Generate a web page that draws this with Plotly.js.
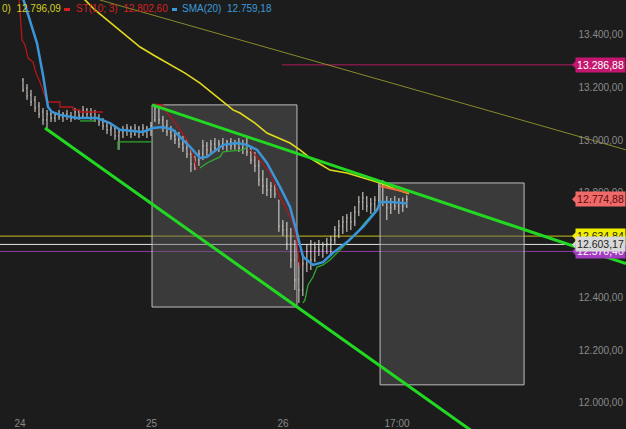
<!DOCTYPE html>
<html><head><meta charset="utf-8">
<script src="https://cdn.plot.ly/plotly-3.0.1.min.js"></script>
<style>html,body{margin:0;padding:0;background:#1c1c1c;overflow:hidden}#chart{width:626px;height:429px;}</style>
</head><body><div id="chart"></div>
<script>
// ---- price bars (x = day of month, fractional) ----
const barOpen = [13229,13198,13172,13153,13130,13107,13077,13099,13084,13096,
13088,13099,13092,13084,13107,13092,13115,13099,13107,13084,
13069,13054,13039,13046,13016,13031,13039,13046,13023,13046,
13031,13046,13039,13077,13122,13077,13054,13031,13016,13001,
12985,12970,12947,12909,12924,12947,12978,12963,12985,12970,
12985,12978,12993,12978,12985,12970,12985,12955,12924,12902,
12848,12825,12810,12825,12772,12673,12658,12605,12544,12468,
12430,12529,12575,12544,12590,12582,12597,12605,12620,12658,
12673,12689,12704,12689,12727,12765,12780,12749,12757,12772,
12825,12765,12742,12765,12749,12772,12749];
const barHigh = [13236,13213,13191,13168,13145,13122,13115,13115,13107,13115,
13107,13115,13107,13122,13115,13130,13122,13122,13115,13099,
13084,13069,13061,13054,13039,13054,13061,13054,13061,13054,
13061,13054,13069,13137,13130,13092,13077,13054,13039,13031,
13016,13001,12963,12940,12963,13001,12993,13001,13008,13001,
13008,13001,13008,13001,13008,13001,13016,12978,12955,12924,
12886,12856,12841,12833,12772,12696,12689,12666,12620,12536,
12559,12605,12620,12612,12620,12612,12628,12635,12673,12696,
12711,12719,12727,12749,12787,12803,12787,12780,12787,12841,
12848,12787,12780,12787,12780,12782,12790];
const barLow = [13183,13153,13130,13107,13084,13058,13046,13069,13069,13077,
13069,13077,13069,13077,13077,13084,13084,13077,13069,13054,
13039,13023,13016,13001,12963,13008,13016,13008,13016,13008,
13016,13008,13016,13069,13061,13031,13016,13001,12985,12970,
12955,12932,12879,12886,12902,12924,12940,12947,12955,12955,
12963,12955,12963,12963,12955,12947,12940,12909,12879,12825,
12795,12787,12780,12780,12651,12635,12582,12514,12430,12381,
12407,12498,12506,12536,12559,12552,12567,12559,12605,12628,
12643,12651,12658,12673,12711,12734,12727,12719,12727,12757,
12749,12696,12719,12734,12719,12727,12742];
const barClose = [13191,13168,13145,13122,13099,13077,13099,13084,13096,13088,
13099,13092,13084,13107,13092,13115,13099,13107,13084,13069,
13054,13039,13046,13016,13031,13039,13046,13023,13046,13031,
13046,13039,13054,13122,13077,13054,13031,13016,13001,12985,
12970,12947,12909,12924,12947,12978,12963,12985,12970,12985,
12978,12993,12978,12985,12970,12985,12955,12924,12902,12848,
12825,12810,12825,12795,12673,12658,12605,12544,12468,12430,
12529,12575,12544,12590,12582,12597,12605,12620,12658,12673,
12689,12704,12689,12727,12765,12780,12749,12757,12772,12825,
12765,12742,12765,12749,12772,12749,12775];
const barStart = 24.023, barStep = 0.0304; // time grid of the bars (days)
const barTime = barOpen.map((_, i) => barStart + i * barStep);

// ---- SMA(20) ----
const sma20X = [24.015,24.076,24.129,24.175,24.213,24.243,24.304,24.433,24.586,24.684,24.760,24.935,25.011,25.087,25.163,25.293,25.369,25.422,25.544,25.650,25.726,25.802,25.878,25.977,26.053,26.106,26.152,26.228,26.304,26.380,26.487,26.608,26.715,26.738,26.814,26.943];
const sma20Y = [13552,13457,13369,13248,13126,13107,13096,13084,13084,13065,13039,13031,13046,13050,13039,12974,12932,12936,12982,12989,12982,12963,12913,12822,12746,12647,12556,12525,12536,12571,12612,12670,12734,12765,12765,12759];

// ---- SMA(200) ----
const sma200X = [24.479,24.570,24.662,24.798,24.913,25.027,25.118,25.255,25.369,25.498,25.620,25.673,25.787,25.878,25.977,26.053,26.129,26.205,26.281,26.357,26.487,26.608,26.738,26.852,26.958];
const sma200Y = [13541,13495,13457,13400,13354,13320,13293,13255,13217,13164,13115,13103,13065,13027,13004,12989,12963,12932,12909,12886,12875,12856,12837,12814,12796];

// ---- ST(10; 3) upper (red) and lower (green) steps; null = break ----
const stRedX = [23.992,24.015,24.038,24.061,24.099,24.122,24.152,24.183,24.205,24.304,24.304,24.403,24.403,24.456,24.456,24.631,null,
25.011,25.087,25.118,25.163,25.217,25.270,25.316,25.346,null,
25.749,25.825,25.901,25.977,26.030,26.076,26.106,26.129];
const stRedY = [13552,13381,13362,13312,13297,13255,13221,13175,13145,13145,13126,13126,13115,13115,13107,13107,null,
13137,13134,13103,13077,13039,13001,12943,12886,null,
12963,12924,12875,12784,12734,12685,12609,12517];
const stGreenX = [24.456,24.570,null,24.745,24.745,25.004,null,
25.369,25.392,25.422,25.468,25.521,25.544,25.696,25.726,null,
26.152,26.167,26.190,26.228,26.259,26.304,26.357,26.433,26.487,26.563,26.608,26.662,26.722];
const stGreenY = [13073,13073,null,12963,12993,12993,null,
12894,12902,12913,12924,12936,12955,12963,12974,null,
12381,12392,12449,12479,12517,12525,12544,12582,12612,12647,12677,12708,12742];
const stLastX = [26.738,26.958];
const stLastY = [12825,12800];

// ---- trend lines ----
const longTrendX = [24.608,28.608];
const longTrendY = [13533,12963];
const upperTrendX = [25.004,28.608];
const upperTrendY = [13134,12530];
const lowerTrendX = [24.190,27.468];
const lowerTrendY = [13046,11882];

// ---- boxes ----
const boxX0 = [25.004,26.738];
const boxX1 = [26.106,27.833];
const boxY0 = [12365,12069];
const boxY1 = [13134,12837];

// ---- horizontal levels ----
const resistanceLevel = 13286.88;
const resistanceStart = 25.992;
const fullLevels = [12576.40,12634.84,12603.17]; // purple, yellow, white
const lastPrice = 12774.88;

// ---- legend values ----
const sma200Last = 12796.09;
const stLast = 12802.60;
const sma20Last = 12759.18;

// ---- axes ----
const xTickVals = [24,25,26,26.867];
const xTickText = ['24','25','26','17:00'];
const yTickVals = [12000,12200,12400,12600,12800,13000,13200,13400];

function fmt(v){
  const s = v.toFixed(2).split('.');
  return s[0].replace(/\B(?=(\d{3})+(?!\d))/g,'.') + ',' + s[1];
}

const traces = [
  {type:'scatter',mode:'lines',x:longTrendX,y:longTrendY,line:{color:'#8a8a2a',width:1}},
  {type:'scatter',mode:'lines',x:lowerTrendX,y:lowerTrendY,line:{color:'#22d822',width:3}},
  {type:'ohlc',x:barTime,open:barOpen,high:barHigh,low:barLow,close:barClose,tickwidth:0.18,
    increasing:{line:{color:'#e6dfd8',width:1}},decreasing:{line:{color:'#e6dfd8',width:1}}},
  {type:'scatter',mode:'lines',x:stRedX,y:stRedY,connectgaps:false,line:{color:'#b3161b',width:1.3}},
  {type:'scatter',mode:'lines',x:stGreenX,y:stGreenY,connectgaps:false,line:{color:'#2eaa2e',width:1.3}},
  {type:'scatter',mode:'lines',x:sma200X,y:sma200Y,line:{color:'#e2da1e',width:1.6}},
  {type:'scatter',mode:'lines',x:stLastX,y:stLastY,line:{color:'#ee6a3a',width:2}},
  {type:'scatter',mode:'lines',x:sma20X,y:sma20Y,line:{color:'#3a96d8',width:2.5}},
  {type:'scatter',mode:'lines',x:upperTrendX,y:upperTrendY,line:{color:'#22d822',width:3}}
];

const shapes = [];
for (let i=0;i<boxX0.length;i++){
  shapes.push({type:'rect',xref:'x',yref:'y',x0:boxX0[i],x1:boxX1[i],y0:boxY0[i],y1:boxY1[i],
    fillcolor:'rgba(95,95,95,0.45)',line:{color:'#bdbdbd',width:1},layer:'below'});
}
shapes.push({type:'line',xref:'x',yref:'y',x0:resistanceStart,x1:28.608,y0:resistanceLevel,y1:resistanceLevel,
  line:{color:'#7d1a48',width:1.5},layer:'below'});
const levelColors = ['#8e3aa6','#c8c21e','#e6e6e6'];
fullLevels.forEach((v,i)=>shapes.push({type:'line',xref:'paper',yref:'y',x0:0,x1:1,y0:v,y1:v,
  line:{color:levelColors[i],width:1},layer:'below'}));

// right-side value labels
const labelVals = [resistanceLevel,lastPrice,fullLevels[0],fullLevels[1],fullLevels[2]];
const labelBg = ['#c3176f','#f06a6a','#a23cc0','#f2ee00','#d8d8d8'];
const labelFg = ['#ffffff','#5a0a0a','#ffffff','#222222','#222222'];
const annotations = [];
labelVals.forEach((v,i)=>{
  shapes.push({type:'path',xref:'paper',yref:'y',xsizemode:'pixel',ysizemode:'pixel',xanchor:1,yanchor:v,
    path:'M -47 7 L -54 0 L -47 -7 Z',fillcolor:labelBg[i],line:{width:0},layer:'above'});
  annotations.push({xref:'paper',yref:'y',x:1,y:v,xanchor:'right',yanchor:'middle',showarrow:false,
    text:fmt(v),bgcolor:labelBg[i],font:{color:labelFg[i],size:10.5},width:47,height:12,borderpad:1,align:'center'});
});

// top legend
const legendY = 1;
annotations.push({xref:'paper',yref:'paper',x:0,y:legendY,xanchor:'left',yanchor:'top',yshift:-1,showarrow:false,
  text:'0)  '+fmt(sma200Last),font:{color:'#d4ce22',size:10}});
annotations.push({xref:'paper',yref:'paper',x:74/626,y:legendY,xanchor:'left',yanchor:'top',yshift:-1,showarrow:false,
  text:'ST(10; 3)  '+fmt(stLast),font:{color:'#d42020',size:10}});
annotations.push({xref:'paper',yref:'paper',x:180/626,y:legendY,xanchor:'left',yanchor:'top',yshift:-1,showarrow:false,
  text:'SMA(20)  '+fmt(sma20Last),font:{color:'#3a9ad9',size:10}});
shapes.push({type:'rect',xref:'paper',yref:'paper',x0:64/626,x1:70/626,y0:1-11/429,y1:1-8/429,fillcolor:'#d42020',line:{width:0}});
shapes.push({type:'rect',xref:'paper',yref:'paper',x0:172/626,x1:177/626,y0:1-11/429,y1:1-8/429,fillcolor:'#3a9ad9',line:{width:0}});

const layout = {
  width:626,height:429,
  margin:{l:0,r:0,t:0,b:0,pad:0},
  paper_bgcolor:'#1c1c1c',plot_bgcolor:'#1c1c1c',
  separators:',.',
  font:{family:'"Liberation Sans", Arial, sans-serif',size:10,color:'#8a8a8a'},
  showlegend:false,hovermode:false,
  xaxis:{range:[23.848,28.608],tickvals:xTickVals,ticktext:xTickText,showgrid:false,zeroline:false,showline:false,
    ticks:'',ticklabelposition:'inside',ticklabelstandoff:-3,tickfont:{size:10,color:'#8a8a8a'},rangeslider:{visible:false},fixedrange:true},
  yaxis:{range:[11901,13533],side:'right',ticklabelposition:'inside',tickvals:yTickVals,tickformat:',.2f',
    showgrid:false,zeroline:false,showline:false,ticks:'',tickfont:{size:10,color:'#8a8a8a'},fixedrange:true},
  shapes:shapes,annotations:annotations
};
Plotly.newPlot('chart',traces,layout,{staticPlot:true,displayModeBar:false});
</script></body></html>
